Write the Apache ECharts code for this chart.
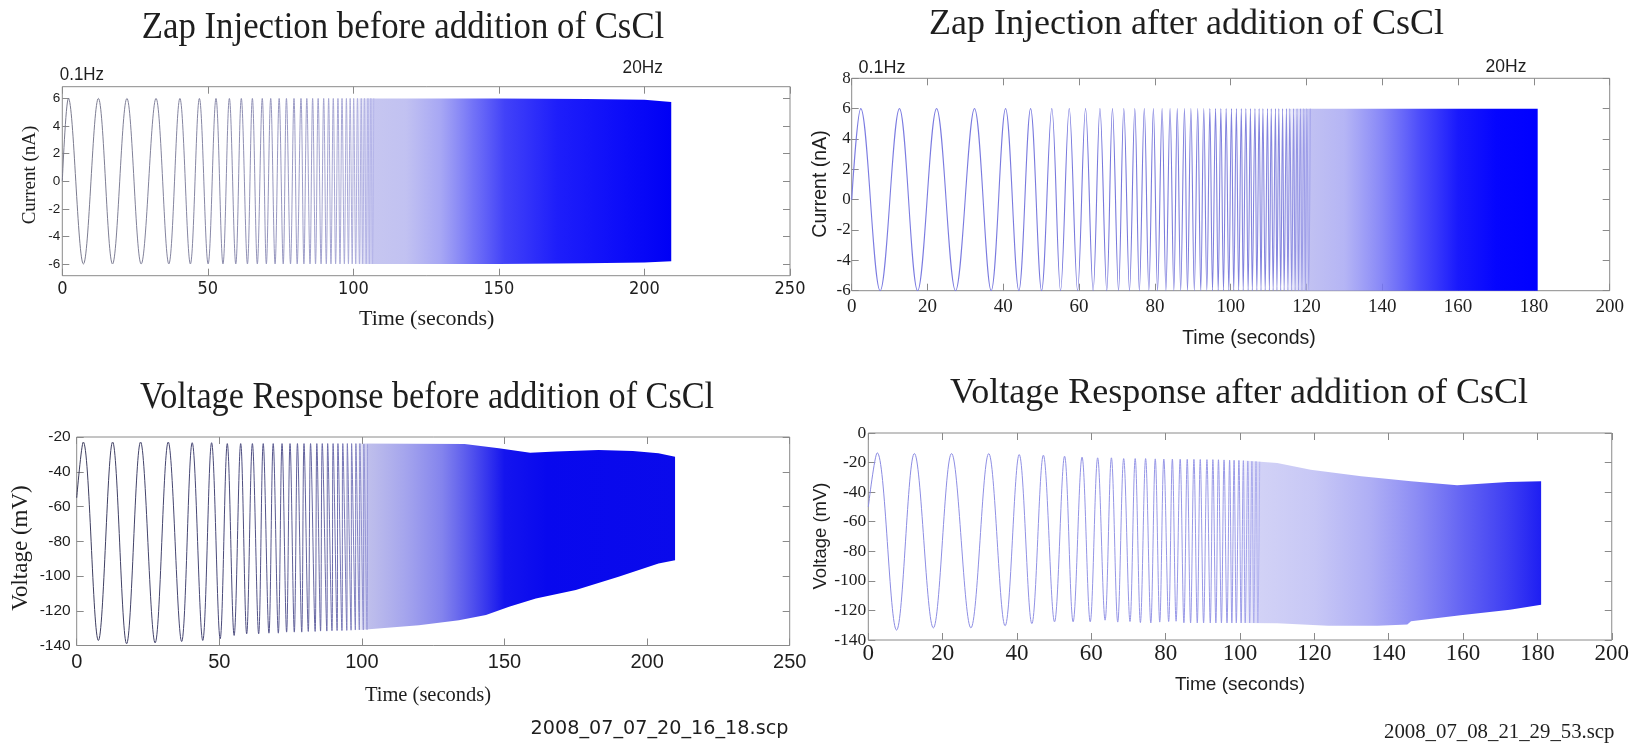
<!DOCTYPE html>
<html><head><meta charset="utf-8">
<script src="https://cdn.jsdelivr.net/npm/echarts@6/dist/echarts.min.js"></script>
<style>html,body{margin:0;padding:0;background:#fff}#c{width:1632px;height:744px}</style>
</head><body><div id="c"></div>
<script>
// ---------------- DATA ----------------
// Top-left: Zap injection before CsCl (current, nA) — extrema times (s)
const tlStart = [0, 0];
const tlAmp = 6;
const tlPeakT = [2.1,12.4,22.2,32.2,40.4,47.1,52.8,57.4,61.5,65.3,68.7,71.6,74.5,77.0,79.6,82.0,84.0,86.0,87.9,89.8,91.5,93.1,94.7,96.1,97.6,98.9,100.1,101.4,102.7,103.8,105.0,106.0,107.0];
const tlTroughT = [7.25,17.25,27.1,36.6,44.0,50.1,55.2,59.6,63.6,67.0,70.1,73.1,75.9,78.4,80.7,83.0,85.1,87.0,88.9,90.7,92.3,93.9,95.4,96.9,98.3,99.6,100.8,102.1,103.2,104.4,105.5,106.6];
// dense (unresolved) part: envelope [t, value]
const tlUpper = [[100,6],[150,6],[180,5.95],[200,5.9],[209.2,5.75]];
const tlLower = [[100,-6],[150,-6],[180,-5.95],[200,-5.9],[209.2,-5.8]];

// Top-right: Zap injection after CsCl
const trStart = [0, 0];
const trAmp = 6;
const trPeakT = [2.4,12.6,22.4,32.4,40.6,47.2,52.8,57.4,61.7,65.5,68.8,71.8,74.7,77.2,79.6,81.9,84.0,85.9,87.8,89.5,91.3,92.9,94.5,96.0,97.4,98.8,100.2,101.5,102.8,104.0,105.2,106.4,107.5,108.5,109.7,110.7,111.8,112.7,113.7,114.7,115.6,116.6,117.5,118.4,119.3,120.1,121.0];
const trTroughT = [7.5,17.4,27.4,36.8,44.1,50.1,55.1,59.6,63.7,67.3,70.4,73.3,75.9,78.4,80.7,82.9,85.0,86.8,88.6,90.4,92.1,93.7,95.2,96.7,98.1,99.5,100.8,102.1,103.3,104.6,105.7,106.9,108.0,109.1,110.2,111.2,112.2,113.2,114.1,115.1,116.1,117.0,117.9,118.8,119.7,120.6];
const trUpper = [[114,6],[181,6]];
const trLower = [[114,-6],[181,-6]];

// Bottom-left: Voltage response before CsCl (mV) — extrema [t, value]
const blStart = [0, -55];
const blPeaks = [[2.3,-22.9],[12.6,-22.9],[22.4,-22.9],[32.1,-22.9],[40.5,-23.3],[47.3,-23.3],[52.8,-23.8],[57.5,-23.8],[61.6,-23.8],[65.4,-23.8],[68.9,-23.8],[72.0,-23.8],[74.8,-23.8],[77.4,-23.8],[79.7,-23.8],[82.0,-23.8],[84.2,-23.8],[86.1,-23.8],[88.0,-23.8],[89.9,-23.8],[91.6,-23.8],[93.3,-23.8],[94.9,-23.8],[96.4,-23.8],[97.9,-23.8],[99.3,-23.8],[100.7,-24.0],[102.0,-24.0]];
const blTroughs = [[7.6,-137.1],[17.5,-139.0],[27.5,-138.5],[36.8,-137.7],[44.2,-137.1],[50.3,-136.2],[55.2,-134.2],[59.6,-133.3],[63.8,-133.3],[67.4,-132.9],[70.7,-132.9],[73.6,-132.3],[76.3,-132.3],[78.9,-132.3],[81.2,-131.9],[83.6,-131.9],[85.5,-131.7],[87.7,-131.7],[89.5,-131.5],[91.3,-131.4],[93.0,-131.4],[94.7,-131.3],[96.2,-131.2],[97.7,-131.1],[99.1,-131.0],[100.5,-131.0],[101.8,-130.8]];
const blUpper = [[98,-23.8],[136,-24.0],[148,-26.5],[159,-29.0],[168,-28.4],[183,-27.5],[195,-28.0],[204,-29.4],[209.8,-31.3]];
const blLower = [[98,-131.2],[120,-128.3],[134,-125.4],[143.5,-122.5],[151.6,-117.7],[161,-112.9],[175,-108.1],[190,-100.5],[204,-92.8],[209.8,-90.9]];

// Bottom-right: Voltage response after CsCl
const brStart = [0, -50];
const brPeaks = [[2.4,-13.4],[12.4,-13.9],[22.4,-13.9],[32.4,-13.9],[40.6,-14.6],[47.1,-15.0],[52.8,-15.7],[57.5,-16.3],[61.7,-16.8],[65.4,-16.8],[68.7,-17.3],[71.8,-17.3],[74.6,-17.3],[77.2,-17.5],[79.5,-17.6],[81.8,-17.6],[83.9,-17.7],[85.8,-17.8],[87.6,-17.8],[89.3,-17.9],[91.1,-18.0],[92.7,-18.0],[94.2,-18.1],[95.7,-18.2],[97.2,-18.3],[98.4,-18.4],[99.7,-18.5],[100.9,-18.7],[102.1,-18.9],[103.2,-19.1],[104.3,-19.3],[105.3,-19.5]];
const brTroughs = [[7.6,-133.3],[17.5,-131.8],[27.6,-131.8],[36.8,-130.4],[44.0,-128.9],[50.1,-127.7],[55.1,-127.7],[59.7,-127.7],[63.7,-126.6],[67.1,-127.9],[70.4,-127.5],[73.2,-128.2],[76.0,-128.5],[78.4,-127.9],[80.8,-127.5],[82.8,-127.3],[84.9,-128.4],[86.7,-128.5],[88.5,-128.5],[90.2,-128.5],[92.0,-128.5],[93.5,-128.5],[95.0,-128.5],[96.5,-128.5],[97.8,-128.5],[99.0,-128.5],[100.3,-128.5],[101.4,-128.5],[102.6,-128.5],[103.7,-128.5],[104.8,-128.5]];
const brUpper = [[100,-18.5],[110,-20.3],[119,-24.8],[132.6,-29.3],[146,-32.7],[158.4,-35.4],[163.7,-34.5],[172,-33.2],[181,-32.7]];
const brLower = [[100,-128.5],[110,-128.6],[123.7,-130.3],[137,-130.3],[145,-129.6],[146,-127.3],[159.3,-123.3],[172.6,-119.5],[181,-116.1]];

// Tick values
const tlYTicks = [-6,-4,-2,0,2,4,6];

// ---------------- BUILD ----------------
const SERIF = '"Liberation Serif", "Times New Roman", serif';
const SANS = '"Liberation Sans", Arial, sans-serif';
const SANS_N = '"Liberation Sans Narrow", "DejaVu Sans Condensed", "Liberation Sans", sans-serif';
const AX = '#8a8a8a';

function wave(start, peaks, troughs) {
  return [start].concat(peaks, troughs).sort((a, b) => a[0] - b[0]);
}
const tlWave = wave(tlStart, tlPeakT.map(t => [t, tlAmp]), tlTroughT.map(t => [t, -tlAmp]));
const trWave = wave(trStart, trPeakT.map(t => [t, trAmp]), trTroughT.map(t => [t, -trAmp]));
const blWave = wave(blStart, blPeaks, blTroughs);
const brWave = wave(brStart, brPeaks, brTroughs);

function grad(stops) {
  return new echarts.graphic.LinearGradient(0, 0, 1, 0, stops.map(s => ({offset: s[0], color: s[1]})));
}
function bandStops(upper, stops) {
  const t0 = upper[0][0], t1 = upper[upper.length - 1][0];
  return stops.map(s => [Math.max(0, Math.min(1, (s[0] - t0) / (t1 - t0))), s[1]]);
}
function band(g, upper, lower, stops) {
  const fill = grad(bandStops(upper, stops));
  return {
    type: 'custom', xAxisIndex: 2 * g, yAxisIndex: 2 * g, silent: true, z: 3,
    data: [upper[0]],
    renderItem: function (params, api) {
      const pts = upper.map(p => api.coord(p)).concat(lower.slice().reverse().map(p => api.coord(p)));
      return {type: 'polygon', shape: {points: pts}, style: {fill: fill}};
    }
  };
}
function line(g, data, stops, width) {
  return {
    type: 'line', xAxisIndex: 2 * g, yAxisIndex: 2 * g, data: data,
    smooth: 0.36, symbol: 'none', showSymbol: false, silent: true, z: 2,
    lineStyle: {width: width, color: grad(stops)}
  };
}

const grids = [
  {left: 62.3, top: 86.7, width: 727.7, height: 189},
  {left: 851.7, top: 78.3, width: 758, height: 212.4},
  {left: 76.7, top: 437, width: 713, height: 208.5},
  {left: 868.3, top: 433, width: 750, height: 207}
].map(g => Object.assign({show: true, borderColor: AX, borderWidth: 1, backgroundColor: 'transparent'}, g));

const tick = {inside: true, length: 7, lineStyle: {color: AX, width: 1}};
function xPair(g, min, max, interval, label) {
  const base = {gridIndex: g, type: 'value', min: min, max: max, interval: interval,
    axisLine: {show: false, onZero: false}, splitLine: {show: false}, axisTick: tick};
  return [
    Object.assign({position: 'bottom', axisLabel: Object.assign({color: '#1e1e1e', showMinLabel: true, showMaxLabel: true}, label)}, base),
    Object.assign({position: 'top', axisLabel: {show: false}}, base)
  ];
}
function yPair(g, min, max, interval, label, custom) {
  const base = {gridIndex: g, type: 'value', min: min, max: max,
    axisLine: {show: false, onZero: false}, splitLine: {show: false}, axisTick: Object.assign({}, tick)};
  if (interval) base.interval = interval;
  if (custom) base.axisTick.customValues = custom;
  const lab = Object.assign({color: '#1e1e1e', showMinLabel: true, showMaxLabel: true}, label);
  if (custom) {
    lab.customValues = custom;
    lab.formatter = v => (custom.indexOf(+(+v).toFixed(6)) >= 0 ? String(v) : '');
  }
  return [
    Object.assign({position: 'left', axisLabel: lab}, base),
    Object.assign({position: 'right', axisLabel: {show: false}}, base)
  ];
}

const xAxis = [].concat(
  xPair(0, 0, 250, 50, {margin: 5, fontSize: 18, fontFamily: SANS_N}),
  xPair(1, 0, 200, 20, {margin: 7, fontSize: 19, fontFamily: SERIF}),
  xPair(2, 0, 250, 50, {margin: 7, fontSize: 20, fontFamily: SANS}),
  xPair(3, 0, 200, 20, {margin: 2, fontSize: 23, fontFamily: SERIF})
);
const yAxis = [].concat(
  yPair(0, -6.85, 6.85, null, {margin: 2, fontSize: 13.5, fontFamily: SANS}, tlYTicks),
  yPair(1, -6, 8, 2, {margin: 1, fontSize: 17, fontFamily: SERIF}),
  yPair(2, -140, -20, 20, {margin: 6, fontSize: 15.5, fontFamily: SANS}),
  yPair(3, -140, 0, 20, {margin: 2, fontSize: 17.5, fontFamily: SERIF})
);

const series = [
  line(0, tlWave, [[0, '#7a7a8c'], [0.45, '#8686a4'], [0.75, '#9a9ac6'], [1, '#b2b2e2']], 1),
  band(0, tlUpper, tlLower, [[100, 'rgba(180,180,232,0)'], [107, 'rgba(182,182,236,0.78)'], [118, 'rgba(178,178,238,0.8)'], [130, 'rgba(150,150,242,0.84)'], [141, 'rgba(100,100,246,0.9)'], [152, 'rgba(58,58,248,0.96)'], [170, 'rgba(30,30,250,1)'], [195, 'rgba(10,10,248,1)'], [209.2, 'rgba(0,0,245,1)']]),
  line(1, trWave, [[0, '#7c7ce2'], [0.6, '#7878dc'], [1, '#8a8ae0']], 1.1),
  band(1, trUpper, trLower, [[114, 'rgba(170,170,236,0)'], [121, 'rgba(172,172,238,0.75)'], [130, 'rgba(160,160,242,0.78)'], [140, 'rgba(115,115,246,0.86)'], [150, 'rgba(62,62,250,0.93)'], [160, 'rgba(25,25,252,1)'], [170, 'rgba(5,5,255,1)'], [181, 'rgba(0,0,255,1)']]),
  line(2, blWave, [[0, '#3c3c5c'], [0.55, '#4a4a7c'], [0.85, '#6a6aa8'], [1, '#8a8acc']], 1),
  band(2, blUpper, blLower, [[98, 'rgba(160,160,220,0)'], [102.5, 'rgba(165,165,228,0.72)'], [115, 'rgba(140,140,232,0.78)'], [128, 'rgba(110,110,234,0.85)'], [140, 'rgba(60,60,236,0.93)'], [150, 'rgba(20,20,238,1)'], [165, 'rgba(8,8,238,1)'], [209.8, 'rgba(10,10,235,1)']]),
  line(3, brWave, [[0, '#8a8ae2'], [1, '#9a9ae8']], 1),
  band(3, brUpper, brLower, [[100, 'rgba(190,190,242,0)'], [105.5, 'rgba(190,190,242,0.7)'], [120, 'rgba(178,178,242,0.72)'], [135, 'rgba(152,152,242,0.78)'], [148, 'rgba(118,118,242,0.85)'], [160, 'rgba(82,82,242,0.9)'], [172, 'rgba(52,52,242,0.95)'], [181, 'rgba(30,30,242,1)']])
];

function txt(text, x, y, size, family, opt) {
  opt = opt || {};
  const rot = opt.rot || 0;
  const d = 0.1 * size;
  return {
    type: 'text', x: x + (rot ? d : 0), y: y + (rot ? 0 : d), rotation: rot, scaleX: opt.sx || 1, silent: true, z: 10,
    style: {text: text, fontSize: size, fontFamily: family, fill: '#1e1e1e',
      align: opt.align || 'center', verticalAlign: 'middle'}
  };
}
const R = Math.PI / 2;
const graphic = [
  txt('Zap Injection before addition of CsCl', 403, 25, 37, SERIF, {sx: 0.94}),
  txt('Zap Injection after addition of CsCl', 1186.5, 21, 36, SERIF),
  txt('Voltage Response before addition of CsCl', 427, 394.5, 38, SERIF, {sx: 0.9}),
  txt('Voltage Response after addition of CsCl', 1239, 389.5, 36, SERIF),
  txt('Current (nA)', 28.6, 175, 19, SERIF, {rot: R}),
  txt('Time (seconds)', 426.7, 316.7, 22, SERIF),
  txt('Current (nA)', 818.6, 184, 19.5, SANS, {rot: R}),
  txt('Time (seconds)', 1249, 336.7, 19.5, SANS),
  txt('Voltage (mV)', 18.2, 548, 23, SERIF, {rot: R}),
  txt('Time (seconds)', 428, 693.3, 20.5, SERIF),
  txt('Voltage (mV)', 818.6, 536, 18.5, SANS, {rot: R}),
  txt('Time (seconds)', 1240, 683.3, 19, SANS),
  txt('0.1Hz', 59.8, 73.3, 18, SANS, {align: 'left', sx: 0.94}),
  txt('20Hz', 642.7, 66.7, 18, SANS, {sx: 0.96}),
  txt('0.1Hz', 858.4, 66.7, 18, SANS, {align: 'left'}),
  txt('20Hz', 1506, 65, 17.5, SANS),
  txt('2008_07_07_20_16_18.scp', 788.4, 726.7, 20, '"DejaVu Sans", sans-serif', {align: 'right', sx: 0.96}),
  txt('2008_07_08_21_29_53.scp', 1614.5, 730.5, 20.8, SERIF, {align: 'right'})
];

const chart = echarts.init(document.getElementById('c'), null, {renderer: 'canvas'});
chart.setOption({
  animation: false,
  backgroundColor: '#ffffff',
  grid: grids, xAxis: xAxis, yAxis: yAxis, series: series, graphic: graphic
});
</script>
</body></html>
